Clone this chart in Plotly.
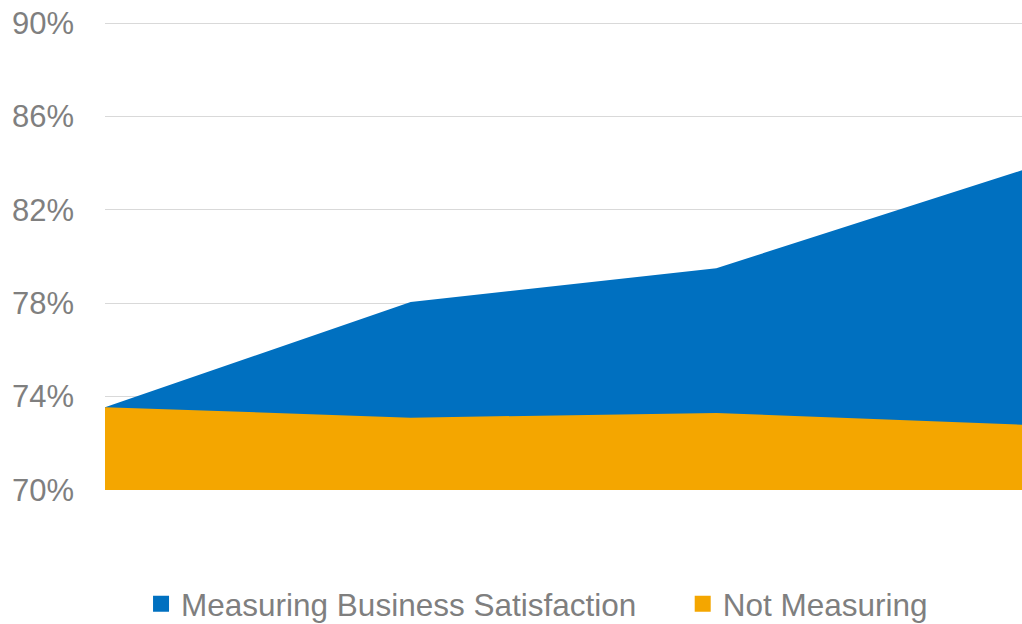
import plotly.graph_objects as go

# Four survey periods (no axis labels are shown on the chart)
periods = ["P1", "P2", "P3", "P4"]
measuring = [73.55, 78.05, 79.5, 83.7]
not_measuring = [73.55, 73.1, 73.3, 72.8]
y_ticks = [70, 74, 78, 82, 86, 90]
y_tick_text = ["70%", "74%", "78%", "82%", "86%", "90%"]

BLUE = "#0070C0"
ORANGE = "#F4A600"
GREY_TEXT = "#7F7F7F"
FONT = "Liberation Sans, Arial, sans-serif"

fig = go.Figure()

# Overlapping areas, both filled down to the axis floor
fig.add_trace(go.Scatter(x=periods, y=measuring, mode="none", fill="tozeroy",
                         fillcolor=BLUE, showlegend=False, hoverinfo="skip"))
fig.add_trace(go.Scatter(x=periods, y=not_measuring, mode="none", fill="tozeroy",
                         fillcolor=ORANGE, showlegend=False, hoverinfo="skip"))

# Square swatches, one legend box per series
fig.add_trace(go.Scatter(x=[None], y=[None], mode="markers", name="Measuring Business Satisfaction",
                         marker=dict(symbol="square", size=16, color=BLUE), legend="legend"))
fig.add_trace(go.Scatter(x=[None], y=[None], mode="markers", name="Not Measuring",
                         marker=dict(symbol="square", size=16, color=ORANGE), legend="legend2"))

legend_style = dict(orientation="h", y=-0.243, yanchor="middle", xanchor="left",
                    font=dict(size=31.5, color=GREY_TEXT), bgcolor="rgba(0,0,0,0)")

fig.update_layout(
    width=1022, height=624,
    margin=dict(l=105, r=0, t=22, b=134, autoexpand=False),
    paper_bgcolor="white", plot_bgcolor="white",
    font=dict(family=FONT, color=GREY_TEXT, size=31),
    legend=dict(x=0.0393, **legend_style),
    legend2=dict(x=0.630, **legend_style),
)
fig.update_xaxes(type="category", range=[0, 3], showticklabels=False, showgrid=False,
                 zeroline=False, showline=False, fixedrange=True)
fig.update_yaxes(range=[70, 90.05], tickvals=y_ticks, ticktext=y_tick_text,
                 showgrid=True, gridcolor="#D9D9D9", gridwidth=1, zeroline=False,
                 showline=False, ticks="", ticklabelstandoff=30,
                 tickfont=dict(size=31, color=GREY_TEXT), layer="below traces")

fig.write_html("out.html")
